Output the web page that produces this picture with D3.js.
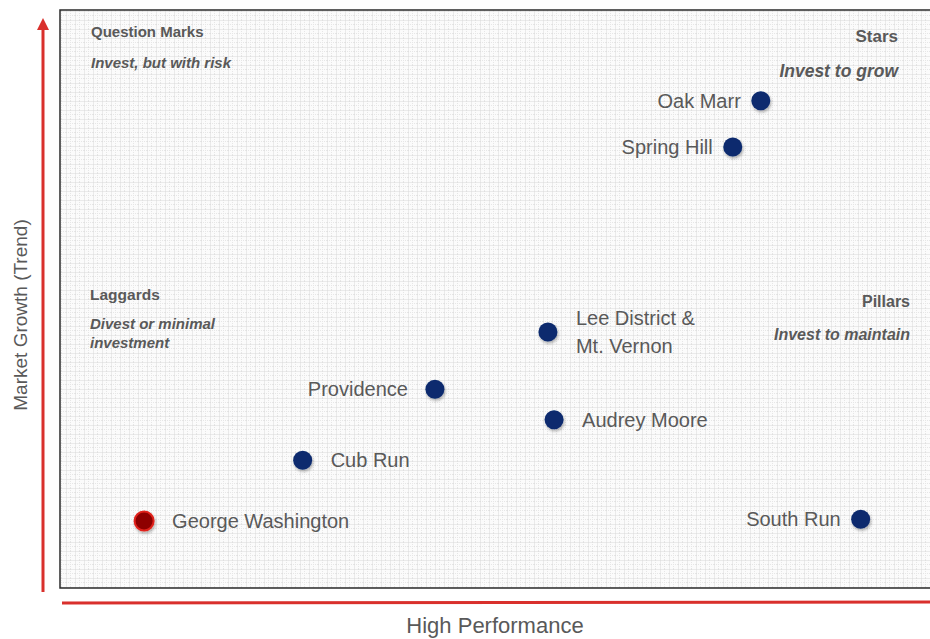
<!DOCTYPE html>
<html>
<head>
<meta charset="utf-8">
<script src="https://cdn.jsdelivr.net/npm/d3@7"></script>
<style>
    body { margin: 0; background: #fff; }
    svg { display: block; font-family: "Liberation Sans", Arial, sans-serif; }
</style>
</head>
<body>
<div id="chart"></div>
<script>
// data (performance 0-100, growth 0-100)
const names = ["Oak Marr", "Spring Hill", "Lee District & Mt. Vernon", "Providence",
    "Audrey Moore", "Cub Run", "George Washington", "South Run"];
const performance = [80.0, 76.8, 55.7, 42.8, 56.4, 27.7, 9.6, 91.4];
const growth = [84.3, 76.3, 44.3, 34.4, 29.1, 22.1, 11.6, 11.9];
const highlight = ["George Washington"];

const xSplit = 50;
const ySplit = 53.1;

const quadrants = [
    { title: "Question Marks", sub: ["Invest, but with risk"], side: "left" },
    { title: "Stars", sub: ["Invest to grow"], side: "right" },
    { title: "Laggards", sub: ["Divest or minimal", "investment"], side: "left" },
    { title: "Pillars", sub: ["Invest to maintain"], side: "right" },
];

const W = 930, H = 639;
const margin = { top: 10, right: -6, bottom: 51, left: 60 };
const width = W - margin.left - margin.right;
const height = H - margin.top - margin.bottom;
const textColor = "#595959";

const svg = d3.select("#chart").append("svg").attr("width", W).attr("height", H);
const defs = svg.append("defs");

// graph paper background
const pat = defs.append("pattern")
    .attr("id", "grid").attr("patternUnits", "userSpaceOnUse")
    .attr("width", 9).attr("height", 9)
    .attr("x", margin.left).attr("y", margin.top);
pat.append("rect").attr("width", 9).attr("height", 9).attr("fill", "#fbfbfb");
pat.append("path").attr("d", "M4.5,0V9M0,4.5H9")
    .attr("stroke", "#e6e6e6").attr("stroke-width", 1).attr("stroke-dasharray", "1,1");
pat.append("path").attr("d", "M0,0V9M0,0H9")
    .attr("stroke", "#d9d9d9").attr("stroke-width", 1);

const shadow = defs.append("filter").attr("id", "shadow")
    .attr("x", "-50%").attr("y", "-50%").attr("width", "200%").attr("height", "200%");
shadow.append("feDropShadow").attr("dx", 1).attr("dy", 2).attr("stdDeviation", 1.5)
    .attr("flood-color", "#000").attr("flood-opacity", 0.3);

const arrow = defs.append("marker").attr("id", "arrow")
    .attr("viewBox", "0 0 10 10").attr("refX", 5).attr("refY", 5)
    .attr("markerWidth", 4).attr("markerHeight", 4).attr("orient", "auto");
arrow.append("path").attr("d", "M0,0L10,5L0,10Z").attr("fill", "#d9302c");

const g = svg.append("g").attr("transform", `translate(${margin.left},${margin.top})`);

const x = d3.scaleLinear().domain([0, 100]).range([0, width]);
const y = d3.scaleLinear().domain([0, 100]).range([height, 0]);

g.append("rect").attr("width", width).attr("height", height).attr("fill", "url(#grid)");

// frame
g.append("path")
    .attr("d", `M${width},0H0V${height}H${width}`)
    .attr("fill", "none").attr("stroke", "#2b2b2b").attr("stroke-width", 1.5);

// quadrant dividers
g.append("line")
    .attr("x1", x(xSplit)).attr("x2", x(xSplit))
    .attr("y1", 2).attr("y2", height)
    .attr("stroke", "#9a9a9a").attr("stroke-width", 2.5).attr("filter", "url(#shadow)");
g.append("line")
    .attr("x1", 20).attr("x2", width - 14)
    .attr("y1", y(ySplit)).attr("y2", y(ySplit))
    .attr("stroke", "#9a9a9a").attr("stroke-width", 3).attr("filter", "url(#shadow)");

// quadrant labels
const qPos = {
    "Question Marks": { x: 31, y: 27, size: 15, sub: 15, gap: 31 },
    "Stars": { x: 838, y: 32, size: 17, sub: 17.5, gap: 35 },
    "Laggards": { x: 30, y: 290, size: 15.5, sub: 15, gap: 29 },
    "Pillars": { x: 850, y: 297, size: 16, sub: 16, gap: 33 },
};
quadrants.forEach((q) => {
    const p = qPos[q.title];
    const anchor = q.side === "left" ? "start" : "end";
    g.append("text")
        .attr("x", p.x).attr("y", p.y)
        .attr("text-anchor", anchor)
        .attr("font-size", p.size).attr("font-weight", "bold")
        .attr("fill", textColor)
        .text(q.title);
    q.sub.forEach((s, i) => {
        g.append("text")
            .attr("x", p.x).attr("y", p.y + p.gap + i * 19)
            .attr("text-anchor", anchor)
            .attr("font-size", p.sub).attr("font-weight", "bold").attr("font-style", "italic")
            .attr("fill", textColor)
            .text(s);
    });
});

// points
const data = names.map((n, i) => ({ name: n, x: performance[i], y: growth[i] }));

g.selectAll("circle.pt")
    .data(data)
    .enter()
    .append("circle")
    .attr("class", "pt")
    .attr("cx", (d) => x(d.x))
    .attr("cy", (d) => y(d.y))
    .attr("r", 9.5)
    .attr("fill", (d) => (highlight.includes(d.name) ? "#8e0000" : "#0a2a6e"))
    .attr("stroke", (d) => (highlight.includes(d.name) ? "#e0221b" : "none"))
    .attr("stroke-width", 2)
    .attr("filter", "url(#shadow)");

// point labels: some sit left of their point
const labelLeft = ["Oak Marr", "Spring Hill", "Providence", "South Run"];
const labelGap = (name, left) => (left ? (name === "Providence" ? -27 : -20) : 28);
data.forEach((d) => {
    const left = labelLeft.includes(d.name);
    const lines = d.name === "Lee District & Mt. Vernon" ? ["Lee District &", "Mt. Vernon"] : [d.name];
    const lx = x(d.x) + labelGap(d.name, left);
    const t = g.append("text")
        .attr("x", lx)
        .attr("y", y(d.y) + 7 - (lines.length - 1) * 14)
        .attr("text-anchor", left ? "end" : "start")
        .attr("font-size", 20)
        .attr("fill", textColor);
    lines.forEach((l, i) => {
        t.append("tspan")
            .attr("x", lx)
            .attr("dy", i === 0 ? 0 : 28)
            .text(l);
    });
});

// axis arrows
svg.append("line")
    .attr("x1", 43).attr("x2", 43).attr("y1", 592).attr("y2", 24)
    .attr("stroke", "#d9302c").attr("stroke-width", 3).attr("marker-end", "url(#arrow)");
svg.append("line")
    .attr("x1", 62).attr("x2", 930).attr("y1", 603).attr("y2", 602)
    .attr("stroke", "#d9302c").attr("stroke-width", 3);

// axis titles
svg.append("text")
    .attr("transform", "translate(27,315) rotate(-90)")
    .attr("text-anchor", "middle")
    .attr("font-size", 19).attr("fill", textColor)
    .text("Market Growth (Trend)");
svg.append("text")
    .attr("x", 495).attr("y", 633)
    .attr("text-anchor", "middle")
    .attr("font-size", 22).attr("fill", textColor)
    .text("High Performance");
</script>
</body>
</html>
